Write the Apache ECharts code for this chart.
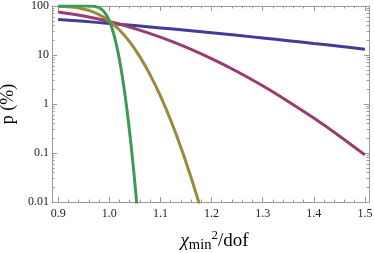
<!DOCTYPE html>
<html><head><meta charset="utf-8">
<script src="https://cdn.jsdelivr.net/npm/echarts@6/dist/echarts.min.js"></script>
<style>html,body{margin:0;padding:0;background:#fff}#c{width:374px;height:253px}</style>
</head><body><div id="c"></div>
<script>
// chi^2_min/dof values and p (%)
const blueX = [0.9,0.95,1.0,1.05,1.1,1.15,1.2,1.25,1.3,1.35,1.4,1.45,1.5];
const blueY = [53.3,48.6,44.1,39.8,35.7,32.0,28.5,25.2,22.3,19.6,17.2,15.1,13.1];
const purpleX = [0.9,0.95,1.0,1.05,1.1,1.15,1.2,1.25,1.3,1.35,1.4,1.45,1.5];
const purpleY = [75.3,62.3,48.1,34.6,23.2,14.5,8.44,4.60,2.35,1.13,0.516,0.223,0.0914];
const oliveX = [0.9,0.92,0.94,0.96,0.98,1.0,1.02,1.04,1.06,1.08,1.1,1.12,1.14,1.16,1.18];
const oliveY = [98.9,96.6,91.2,81.4,66.8,49.4,32.3,18.5,9.17,3.94,1.46,0.47,0.131,0.0316,0.00668];
const greenX = [0.9,0.92,0.94,0.95,0.96,0.97,0.975,0.98,0.985,0.99,0.995,1.0,1.005,1.01,1.015,1.02,1.025,1.03,1.035,1.04,1.045,1.05,1.055,1.06];
const greenY = [100,100,99.999,99.98,99.79,98.4,96.2,92.2,85.6,76.0,63.7,49.8,36.0,23.9,14.5,7.93,3.94,1.76,0.712,0.258,0.0845,0.0248,0.00655,0.00156];
const yMajor = [0.01,0.1,1,10,100];
const yMinor = [];
[0.01,0.1,1,10].forEach(d=>{for(let k=2;k<=9;k++) yMinor.push(+(d*k).toPrecision(3));});

const zip=(a,b)=>a.map((v,i)=>[v,b[i]]);
const frame='#999999';
const serif='"Liberation Serif","DejaVu Serif",serif';
const chart=echarts.init(document.getElementById('c'),null,{renderer:'canvas'});
const xBase={type:'value',min:0.888,max:1.508,splitNumber:6,splitLine:{show:false},
  axisLine:{show:true,lineStyle:{color:frame,width:1}},
  axisTick:{show:true,inside:true,length:5,lineStyle:{color:frame}},
  minorTick:{show:true,splitNumber:5,length:2.5,lineStyle:{color:frame}}};
const yBase={type:'log',min:0.01,max:100,logBase:10,splitLine:{show:false},
  axisLine:{show:true,lineStyle:{color:frame,width:1}}};
chart.setOption({
  animation:false,
  grid:{left:52,right:5,top:6,bottom:51,containLabel:false,outerBoundsMode:'none'},
  xAxis:[
    Object.assign({},xBase,{position:'bottom',
      axisLabel:{show:true,showMinLabel:false,showMaxLabel:false,color:'#222',fontFamily:serif,fontSize:12,margin:6,formatter:v=>v.toFixed(1)},
      name:'{chi|χ}{sub|min}{sup|2}{n|/dof}',nameLocation:'middle',nameGap:27,
      nameTextStyle:{fontFamily:serif,color:'#000',padding:[0,0,0,8],rich:{
        chi:{fontFamily:serif,fontStyle:'italic',fontSize:19,lineHeight:24,color:'#000'},
        sub:{fontFamily:serif,fontSize:14.5,lineHeight:19,verticalAlign:'bottom',color:'#000'},
        sup:{fontFamily:serif,fontSize:13,lineHeight:16,verticalAlign:'top',color:'#000'},
        n:{fontFamily:serif,fontSize:19,lineHeight:24,color:'#000'}}}}),
    Object.assign({},xBase,{position:'top',axisLabel:{show:false}})
  ],
  yAxis:[
    Object.assign({},yBase,{position:'left',
      axisTick:{show:true,inside:true,length:5,lineStyle:{color:frame}},
      axisLabel:{color:'#222',fontFamily:serif,fontSize:12,margin:3,formatter:v=>String(v)},
      name:'p (%)',nameLocation:'middle',nameGap:32,nameRotate:90,
      nameTextStyle:{fontFamily:serif,fontSize:18,color:'#000'}}),
    Object.assign({},yBase,{position:'left',axisLine:{show:false},axisLabel:{show:false},
      axisTick:{show:true,inside:true,length:2.5,customValues:yMinor,lineStyle:{color:frame}}}),
    Object.assign({},yBase,{position:'right',axisLabel:{show:false},
      axisTick:{show:true,inside:true,length:5,lineStyle:{color:frame}}}),
    Object.assign({},yBase,{position:'right',axisLine:{show:false},axisLabel:{show:false},
      axisTick:{show:true,inside:true,length:2.5,customValues:yMinor,lineStyle:{color:frame}}})
  ],
  series:[
    {type:'line',data:zip(blueX,blueY),smooth:0.3,showSymbol:false,lineStyle:{color:'#3f3d99',width:3},clip:true},
    {type:'line',data:zip(purpleX,purpleY),smooth:0.3,showSymbol:false,lineStyle:{color:'#993d71',width:3},clip:true},
    {type:'line',data:zip(oliveX,oliveY),smooth:0.3,showSymbol:false,lineStyle:{color:'#998b3d',width:3},clip:true},
    {type:'line',data:zip(greenX,greenY),smooth:0.3,showSymbol:false,lineStyle:{color:'#3d9956',width:3},clip:true}
  ]
});
</script></body></html>
